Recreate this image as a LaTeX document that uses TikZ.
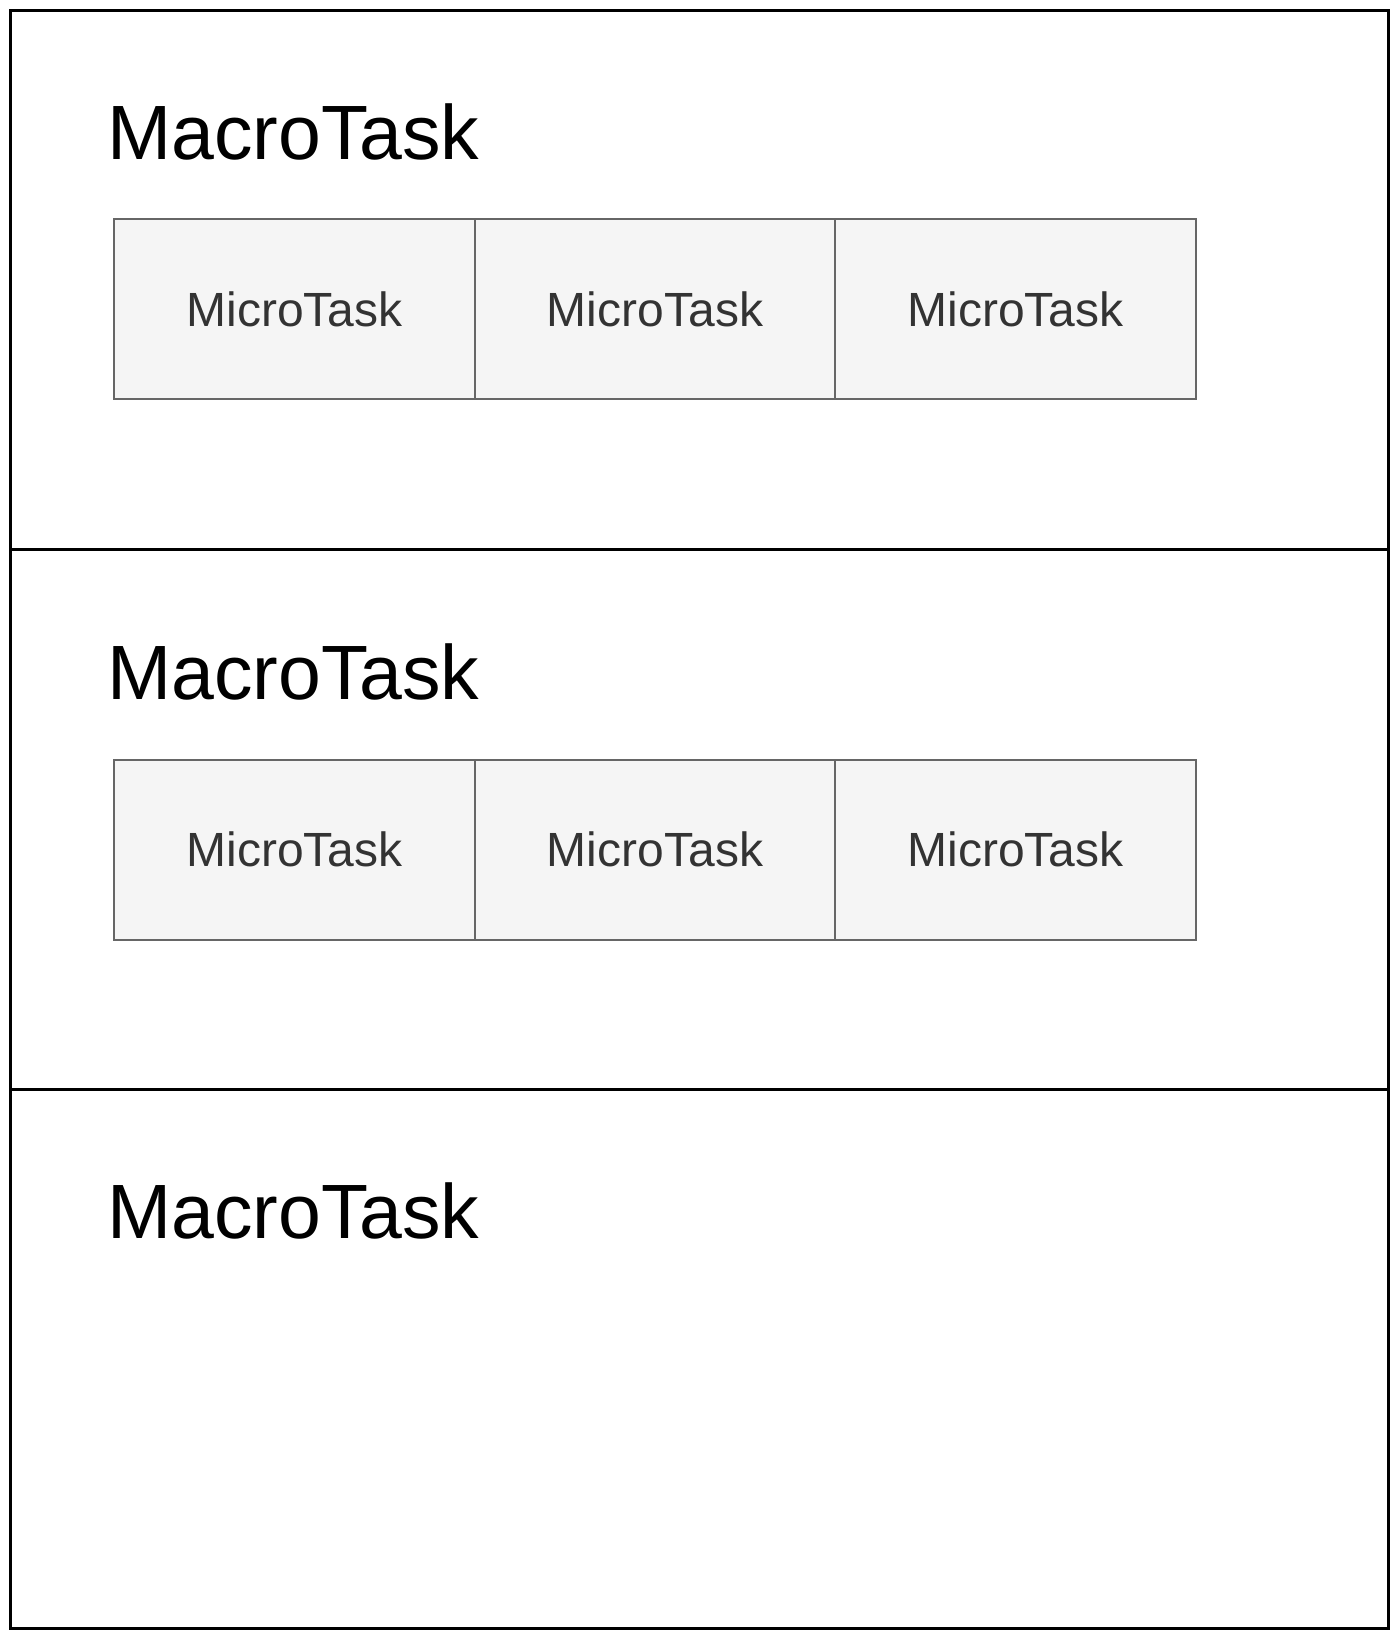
\documentclass[tikz,border=0pt]{standalone}
\usepackage{fontspec}
\setmainfont{Liberation Sans}
\usepackage{tikz}
\usetikzlibrary{positioning}

\definecolor{microfill}{HTML}{F5F5F5}
\definecolor{microline}{HTML}{666666}
\definecolor{microtext}{HTML}{333333}

\tikzset{
  macrobox/.style={draw=black, line width=3pt, minimum width=1378pt,
                   minimum height=539.5pt, inner sep=0pt, outer sep=0pt},
  macrotitle/.style={anchor=base west, inner sep=0pt,
                     font=\fontsize{77}{90}\selectfont},
  microbox/.style={draw=microline, fill=microfill, line width=2pt,
                   minimum width=360.5pt, minimum height=180pt, inner sep=0pt,
                   outer sep=0pt, text=microtext, font=\fontsize{48}{56}\selectfont},
}

\begin{document}
\begin{tikzpicture}[x=1pt,y=-1pt]
           \useasboundingbox (0,0) rectangle (1398,1636);
           % three macro tasks stacked
           \node[macrobox] (M_1) at (699,279.75)           {};
           \node[macrobox] (M_2) [below=0pt of M_1]        {};
           \node[macrobox] (M_3) [below=0pt of M_2]        {};
           \node[macrotitle] (t_1) at (107,159)            {MacroTask};
           \node[macrotitle] (t_2) at (107,699)            {MacroTask};
           \node[macrotitle] (t_3) at (107,1238.5)         {MacroTask};
           % micro tasks of the first macro task
           \node[microbox] (a_1) at (294.5,309)            {MicroTask};
           \node[microbox] (a_2) [right=0pt of a_1]        {MicroTask};
           \node[microbox] (a_3) [right=0pt of a_2]        {MicroTask};
           % micro tasks of the second macro task
           \node[microbox] (b_1) at (294.5,849.5)          {MicroTask};
           \node[microbox] (b_2) [right=0pt of b_1]        {MicroTask};
           \node[microbox] (b_3) [right=0pt of b_2]        {MicroTask};
    \end{tikzpicture}
\end{document}
